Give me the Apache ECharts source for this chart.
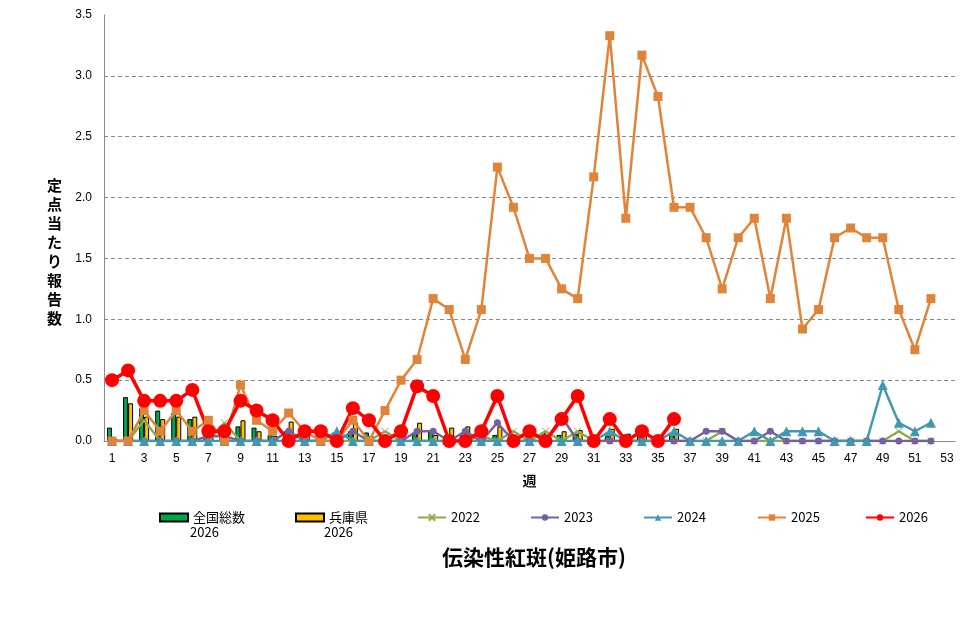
<!DOCTYPE html>
<html><head><meta charset="utf-8">
<script src="https://cdn.jsdelivr.net/npm/echarts@6/dist/echarts.min.js"></script>
<style>html,body{margin:0;padding:0;background:#fff}#c{width:976px;height:637px}</style>
</head><body><div id="c"></div>
<script>
const weeks = Array.from({length:53},(_,i)=>String(i+1));
const yTicks = [0,0.5,1.0,1.5,2.0,2.5,3.0,3.5];
const national2026 = [0.11,0.36,0.27,0.25,0.23,0.18,0.06,0.05,0.12,0.11,0.05,0.08,0.04,0.03,0.06,0.08,0.07,0.04,0.04,0.07,0.08,0.05,0.05,0.08,0.05,0.04,0.04,0.07,0.05,0.06,0.02,0.04,0.03,0.04,0.02,0.05];
const hyogo2026 = [0.02,0.31,0.2,0.18,0.2,0.2,0.08,0.04,0.17,0.08,0.04,0.16,0.06,0.02,0.05,0.15,0.04,0.03,0.03,0.15,0.05,0.11,0.12,0.06,0.12,0.03,0.04,0.05,0.08,0.09,0.01,0.1,0.06,0.05,0.01,0.1];
const s2022 = [0,0,0.17,0,0,0,0,0.15,0,0,0,0,0,0,0,0,0,0.08,0,0,0,0,0,0.04,0,0.08,0,0.08,0,0.08,0,0,0,0,0,0,0,0,0.08,0,0,0,0,0,0,0,0,0,0,0.08,0,0];
const s2023 = [0,0,0,0,0,0,0.04,0.04,0,0,0,0.08,0,0,0,0.08,0,0,0,0.08,0.08,0,0.08,0,0.15,0,0,0,0.2,0,0,0,0,0,0,0,0,0.08,0.08,0,0,0.08,0,0,0,0,0,0,0,0,0,0];
const s2024 = [0,0,0,0,0,0,0,0,0,0,0,0,0,0,0.08,0,0,0,0,0,0,0,0,0,0,0,0,0,0,0,0,0.08,0,0,0,0.08,0,0,0,0,0.08,0,0.08,0.08,0.08,0,0,0,0.46,0.15,0.08,0.15];
const s2025 = [0,0,0.25,0.08,0.25,0.08,0.17,0,0.46,0.17,0.08,0.23,0.08,0,0,0.17,0,0.25,0.5,0.67,1.17,1.08,0.67,1.08,2.25,1.92,1.5,1.5,1.25,1.17,2.17,3.33,1.83,3.17,2.83,1.92,1.92,1.67,1.25,1.67,1.83,1.17,1.83,0.92,1.08,1.67,1.75,1.67,1.67,1.08,0.75,1.17];
const s2026 = [0.5,0.58,0.33,0.33,0.33,0.42,0.08,0.08,0.33,0.25,0.17,0,0.08,0.08,0,0.27,0.17,0,0.08,0.45,0.37,0,0,0.08,0.37,0,0.08,0,0.18,0.37,0,0.18,0,0.08,0,0.18];

const JP = '"Noto Sans CJK JP", sans-serif';
const AR = '"Liberation Sans", Arial, sans-serif';
const chart = echarts.init(document.getElementById('c'));
const xPath = 'path://M0,0L10,10M10,0L0,10';
function lg(name, left, icon){
  return {data:[{name:name, icon:icon}], left:left, top:506, itemWidth:28, itemHeight:8, itemGap:0,
    textStyle:{fontFamily:JP, fontSize:13, color:'#000'}};
}
chart.setOption({
  animation:false,
  backgroundColor:'#fff',
  title:{text:'伝染性紅斑(姫路市)', left:529, textAlign:'center', top:542,
    textStyle:{fontFamily:JP, fontSize:21, fontWeight:'bold', color:'#000'}},
  legend:[
    lg('全国総数',154,'rect'),
    lg('兵庫県',290,'rect'),
    lg('2022',412),
    lg('2023',525),
    lg('2024',638),
    lg('2025',752),
    lg('2026',860)
  ],
  grid:{left:104, right:21, top:15, bottom:196},
  graphic:[
    {type:'text', left:47, top:176, style:{text:'定\n点\n当\nた\nり\n報\n告\n数', font:'bold 15px "Noto Sans CJK JP"', lineHeight:19, fill:'#000'}},
    {type:'text', left:190, top:526, style:{text:'2026', font:'13px "Noto Sans CJK JP"', fill:'#000'}},
    {type:'text', left:324, top:526, style:{text:'2026', font:'13px "Noto Sans CJK JP"', fill:'#000'}}
  ],
  xAxis:{type:'category', data:weeks, boundaryGap:true, name:'週', nameLocation:'middle', nameGap:33,
    nameTextStyle:{fontFamily:JP, fontSize:14, fontWeight:'bold', color:'#000'},
    axisLine:{lineStyle:{color:'#888'}}, axisTick:{show:false},
    axisLabel:{interval:1, fontFamily:AR, fontSize:12, color:'#000', margin:12}},
  yAxis:{type:'value', min:yTicks[0], max:yTicks[yTicks.length-1], interval:0.5,
    axisLine:{show:true, lineStyle:{color:'#888'}}, axisTick:{show:false},
    axisLabel:{formatter:v=>v.toFixed(1), fontFamily:AR, fontSize:12, color:'#000', margin:12},
    splitLine:{lineStyle:{type:[4,3], color:['#888','#888','#888','#888','#888','#888','#888','transparent']}}},
  series:[
    {name:'全国総数', type:'bar', data:national2026, barWidth:5, barGap:'0%',
      itemStyle:{color:'#00A550', borderColor:'#000', borderWidth:1}},
    {name:'兵庫県', type:'bar', data:hyogo2026, barWidth:5, barGap:'0%',
      itemStyle:{color:'#FFC000', borderColor:'#000', borderWidth:1}},
    {name:'2022', type:'line', data:s2022, symbol:xPath, symbolSize:7, showAllSymbol:true, lineStyle:{width:2.5, color:'#8FAA4C'},
      itemStyle:{color:'#8FAA4C', borderColor:'#8FAA4C', borderWidth:1}},
    {name:'2023', type:'line', data:s2023, symbol:'circle', symbolSize:7, showAllSymbol:true, lineStyle:{width:2.5, color:'#7560A0'},
      itemStyle:{color:'#7560A0'}},
    {name:'2024', type:'line', data:s2024, symbol:'triangle', symbolSize:10, showAllSymbol:true, lineStyle:{width:2.5, color:'#4198AF'},
      itemStyle:{color:'#4198AF'}},
    {name:'2025', type:'line', data:s2025, symbol:'rect', symbolSize:9, showAllSymbol:true, lineStyle:{width:2.5, color:'#E0843A'},
      itemStyle:{color:'#E0843A'}},
    {name:'2026', type:'line', data:s2026, symbol:'circle', symbolSize:14, showAllSymbol:true, lineStyle:{width:3.5, color:'#FF0000'},
      itemStyle:{color:'#FF0000'}}
  ]
});
</script></body></html>
